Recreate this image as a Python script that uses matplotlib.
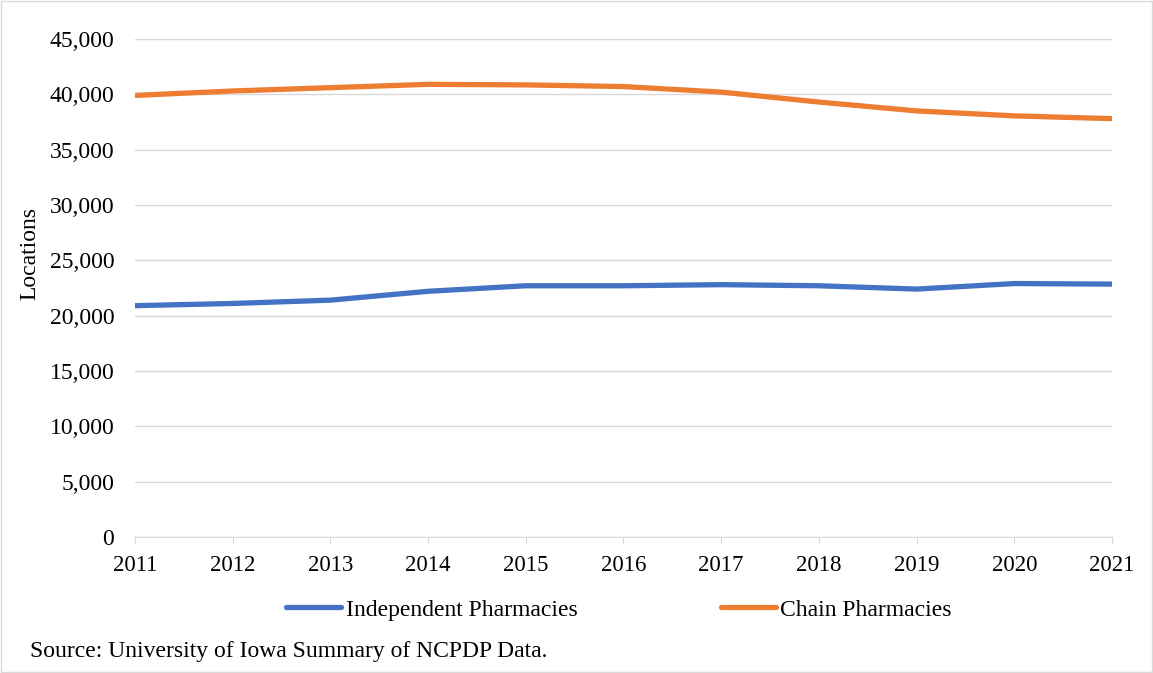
import matplotlib.pyplot as plt
from matplotlib.ticker import FuncFormatter

plt.rcParams['font.family'] = ['Liberation Serif', 'DejaVu Serif']

years = [2011, 2012, 2013, 2014, 2015, 2016, 2017, 2018, 2019, 2020, 2021]
independent = [20900, 21100, 21400, 22200, 22700, 22700, 22800, 22700, 22400, 22900, 22850]
chain = [39900, 40300, 40600, 40900, 40850, 40700, 40200, 39300, 38500, 38050, 37800]

fig = plt.figure(figsize=(11.53, 6.73), dpi=100)
ax = fig.add_axes([0.1171, 0.2021, 0.8473, 0.7400])

ax.plot(years, independent, color='#4472C4', lw=3.8, solid_capstyle='round',
        label='Independent Pharmacies')
ax.plot(years, chain, color='#ED7D31', lw=3.8, solid_capstyle='round',
        label='Chain Pharmacies')

ax.set_xlim(2011, 2021)
ax.set_ylim(0, 45000)
ax.set_yticks(range(0, 45001, 5000))
ax.set_xticks(years)
ax.yaxis.set_major_formatter(FuncFormatter(lambda v, p: f'{int(v):,}'))
ax.grid(axis='y', color='#d9d9d9', lw=1)
ax.set_axisbelow(True)
for s in ['top', 'right', 'left']:
    ax.spines[s].set_visible(False)
ax.spines['bottom'].set_color('#d9d9d9')
ax.tick_params(axis='y', length=0, labelsize=17, pad=15)
ax.tick_params(axis='x', length=5, color='#d9d9d9', labelsize=16.5, pad=8)

fig.text(0.026, 0.624, 'Locations', fontsize=17, rotation=90, ha='center', va='center')

fig.legend(loc='center', bbox_to_anchor=(0.537, 0.094), ncol=2, frameon=False,
           fontsize=17, handlelength=2.3, handletextpad=0.2, columnspacing=6.1)
fig.text(0.026, 0.032, 'Source: University of Iowa Summary of NCPDP Data.',
         fontsize=17, va='center')

fig.patches.append(plt.Rectangle((0.001, 0.001), 0.998, 0.998, transform=fig.transFigure,
                                 fill=False, edgecolor='#d9d9d9', lw=1))

fig.savefig('out.png', dpi=100)
